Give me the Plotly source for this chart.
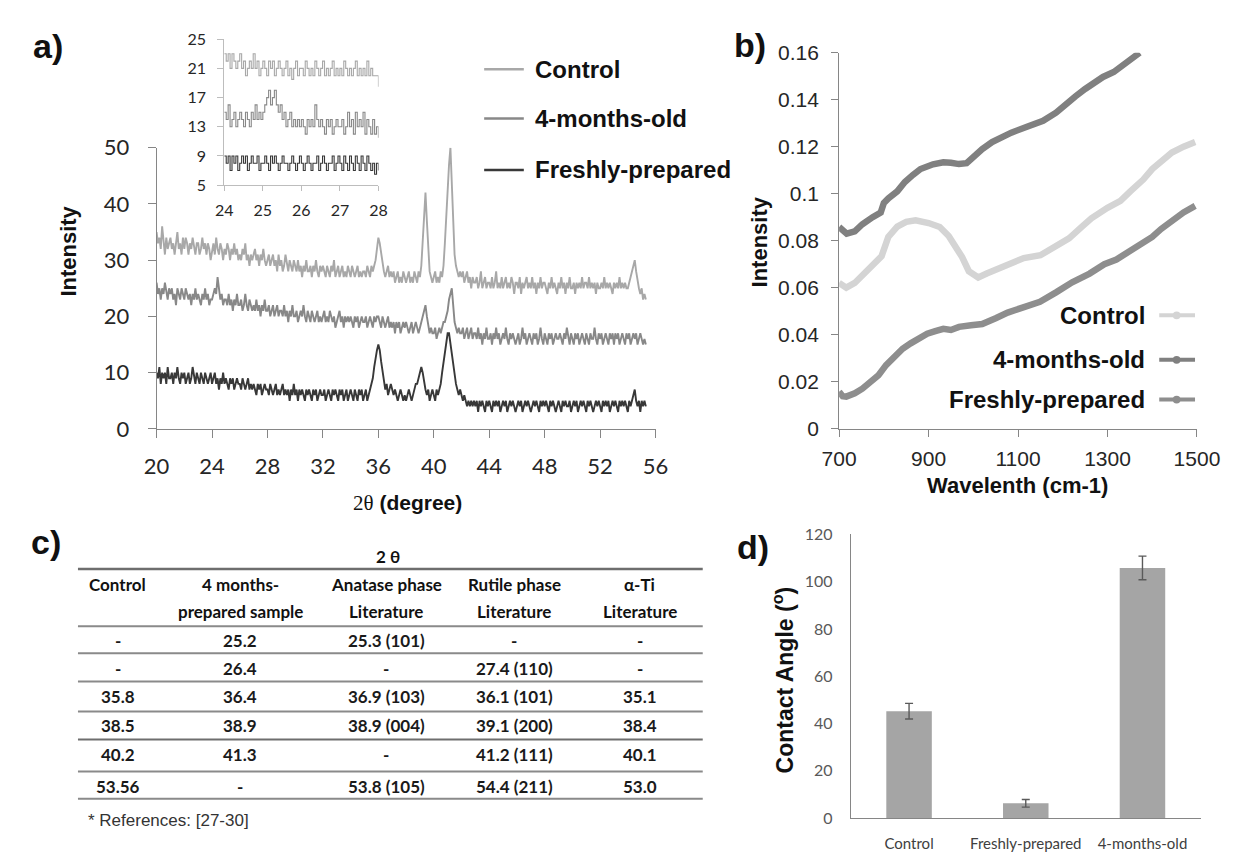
import numpy as np
import plotly.graph_objects as go

W, H = 1248, 862

# ---------------- Panel a: XRD (2theta from 20.0 in 0.1 steps) ----------------
xrd_start, xrd_step = 20.0, 0.1
xrd_control = [
    35,33,34,32,36,33,31,34,32,33, 34,32,33,31,33,35,32,33,31,34,
    32,34,33,31,33,32,34,32,31,33, 33,31,32,34,32,33,31,33,32,30,
    32,33,31,34,32,31,33,32,30,32, 31,33,32,30,32,31,33,31,32,30,
    31,30,32,31,33,30,31,29,31,30, 31,32,30,31,29,31,30,32,30,29,
    30,31,29,30,31,29,30,28,31,29, 30,28,29,31,29,28,30,29,28,30,
    29,28,30,28,29,27,29,28,30,28, 28,29,27,29,28,30,28,27,29,28,
    29,28,27,29,28,27,29,28,30,27, 28,29,27,28,29,27,28,27,29,28,
    27,29,28,27,28,29,27,28,27,28, 28,27,29,28,27,29,28,29,30,32,
    34,33,31,29,28,27,28,29,27,28, 27,28,26,27,28,26,27,26,28,27,
    26,27,28,26,27,26,28,27,26,28, 27,29,33,39,42,37,31,28,27,26,
    27,28,26,27,26,28,27,29,33,38, 43,47,50,44,37,31,29,28,27,28,
    27,28,26,27,28,26,27,25,27,26, 26,27,25,26,28,25,26,27,25,26,
    26,25,27,25,26,28,25,26,25,27, 25,26,27,25,26,25,27,26,24,26,
    26,25,27,24,26,25,26,27,25,26, 25,27,25,26,24,26,25,27,25,26,
    26,25,24,26,25,27,25,26,25,24, 26,25,27,25,26,24,26,25,27,25,
    25,26,24,26,25,26,25,27,25,26, 26,25,27,25,26,25,26,24,26,25,
    25,26,25,27,25,26,25,26,25,24, 26,25,26,25,27,25,26,25,26,25,
    25,26,27,28,29,30,28,26,25,24, 25,23,24,23]
xrd_4months = [
    26,24,25,23,25,24,26,24,23,25, 24,25,23,24,22,25,24,23,25,24,
    23,25,24,23,24,22,24,23,25,23, 24,23,22,24,23,25,23,24,22,23,
    23,24,25,24,27,25,23,24,22,23, 23,22,24,22,23,21,23,22,24,22,
    22,23,21,22,24,22,21,23,22,21, 22,21,23,21,22,20,22,21,23,21,
    21,22,20,21,22,20,21,22,20,21, 21,20,22,20,21,19,21,20,22,20,
    20,21,19,20,21,20,22,20,19,21, 20,19,21,20,19,20,21,19,20,19,
    20,21,19,20,19,21,20,19,20,18, 19,20,21,19,20,18,20,19,20,19,
    20,19,18,20,19,20,18,19,20,19, 19,20,18,19,20,19,18,20,19,20,
    20,19,18,20,19,18,19,20,18,19, 18,19,17,19,18,19,17,18,19,18,
    19,18,17,18,19,17,18,19,18,17, 18,19,20,21,22,20,18,17,18,17,
    17,18,16,17,18,17,18,19,19,20, 21,23,24,25,22,19,18,17,18,17,
    17,18,16,17,18,16,17,18,16,17, 17,16,18,16,17,15,17,16,18,16,
    16,17,15,17,16,18,16,17,15,16, 17,16,18,16,15,17,16,17,16,15,
    16,17,15,16,18,16,17,15,16,17, 16,15,17,16,17,15,16,18,16,15,
    17,16,15,17,16,17,15,16,17,16, 16,17,16,15,17,16,18,16,15,17,
    16,15,17,16,17,15,16,17,16,15, 17,16,15,17,16,16,18,16,15,17,
    16,17,15,16,17,16,15,17,16,17, 15,17,16,17,15,16,17,16,15,17,
    16,17,15,16,17,16,17,15,16,17, 16,15,16,15]
xrd_fresh = [
    10,9,11,8,10,9,10,8,11,9, 9,10,8,10,9,11,9,8,10,9,
    10,8,9,10,8,9,11,9,8,10, 9,8,10,9,8,10,9,8,9,10,
    8,9,10,8,9,7,9,8,10,8, 9,8,7,9,8,9,7,8,9,8,
    8,7,9,8,7,8,9,7,8,7, 8,7,6,8,7,8,6,7,8,7,
    7,6,8,7,6,7,8,6,7,6, 7,8,6,7,6,7,5,7,6,8,
    6,7,5,7,6,7,6,5,7,6, 7,6,5,7,6,7,5,6,7,6,
    6,7,5,6,7,6,5,7,6,7, 6,5,7,6,7,5,6,7,5,6,
    7,6,5,7,6,5,7,6,7,5, 6,7,5,6,7,8,9,11,13,14,
    15,14,12,10,8,7,8,6,7,8, 7,6,7,6,5,6,7,6,5,6,
    5,6,7,6,5,6,7,8,8,9, 10,11,10,8,7,6,7,5,6,7,
    6,5,7,6,7,8,10,12,14,16, 17,17,15,13,11,9,8,7,6,7,
    6,5,6,5,4,5,4,5,4,5, 4,5,3,5,4,5,4,3,5,4,
    5,4,3,5,4,5,4,5,3,4, 5,4,5,3,4,5,4,5,4,3,
    4,5,4,5,3,4,5,4,5,4, 3,4,5,4,5,4,3,5,4,5,
    4,5,4,3,5,4,5,4,3,4, 5,4,3,5,4,5,4,4,5,3,
    4,5,4,5,3,4,5,4,5,4, 3,5,4,5,4,3,4,5,4,5,
    4,3,5,4,5,4,5,3,4,5, 4,5,4,3,5,4,5,4,5,4,
    3,5,4,5,6,7,5,4,5,3, 5,4,5,4]
xrd_ticks = [20, 24, 28, 32, 36, 40, 44, 48, 52, 56]

# inset: 24-28 degrees in 0.05 steps
inset_start, inset_step = 24.0, 0.05
inset_control = [
    23,22,23,21,23,22,21,22,23,21, 22,20,21,22,21,23,21,22,20,21,
    22,21,20,22,21,22,20,21,22,21, 20,21,22,20,21,19.5,21,22,20,21,
    21,20,22,21,20,21,20,22,21,20, 21,22,20,21,20,21,22,20,21,20,
    21,20,22,21,20,21,20,21,22,20, 21,20,21,20,22,20,21,20,20,20, 18.5]
inset_4months = [
    15,14,16,13,14,15,13,14,15,14, 13,15,14,13,15,14,16,14,15,14,
    15,16,17,18,16,17,18,16,15,16, 14,15,13,14,15,13,14,13,14,13,
    14,13,12,14,13,14,13,16,14,13, 14,13,12,14,13,14,12,13,14,13,
    13,14,12,13,15,13,14,12,15,13, 14,13,15,12,14,13,12,14,12,13, 11.5]
inset_fresh = [
    9,8,9,7,9,8,9,7,8,9, 8,9,7,8,9,8,8,9,7,8,
    8,9,8,7,9,8,9,8,7,8, 9,8,8,7,8,9,8,7,8,9,
    8,7,8,9,8,7,8,8,9,7, 8,9,8,7,8,8,9,7,8,9,
    8,7,9,8,7,9,8,7,9,8, 7,9,8,7,9,8,7,8,6.5,8, 7]
inset_xticks = [24, 25, 26, 27, 28]
inset_yticks = [5, 9, 13, 17, 21, 25]

series_names = ["Control", "4-months-old", "Freshly-prepared"]

# ---------------- Panel b: spectra ----------------
b_control_x = [700, 716, 735, 752, 770, 795, 810, 830, 850, 871, 900, 925, 945, 960, 975, 990,
               1011, 1030, 1055, 1080, 1113, 1150, 1184, 1214, 1243, 1264, 1300, 1329, 1351,
               1380, 1400, 1420, 1444, 1470, 1496]
b_control_y = [0.062, 0.060, 0.062, 0.065, 0.069, 0.0734, 0.0816, 0.086, 0.0880, 0.0887, 0.0875,
               0.0858, 0.082, 0.078, 0.073, 0.067, 0.0643, 0.066, 0.068, 0.070, 0.0726, 0.0738,
               0.0775, 0.081, 0.086, 0.0895, 0.094, 0.097, 0.101, 0.106, 0.1105, 0.114, 0.1175,
               0.120, 0.122]
b_4m_x = [700, 710, 717, 735, 752, 775, 793, 800, 810, 830, 847, 865, 882, 910, 933, 950, 968,
          985, 998, 1020, 1042, 1060, 1085, 1120, 1156, 1185, 1205, 1228, 1250, 1271, 1290,
          1314, 1330, 1344, 1358, 1372]
b_4m_y = [0.0858, 0.084, 0.083, 0.084, 0.087, 0.090, 0.092, 0.096, 0.098, 0.101, 0.105, 0.108,
          0.1105, 0.1125, 0.1134, 0.1132, 0.1126, 0.113, 0.1155, 0.119, 0.122, 0.124, 0.126,
          0.1285, 0.131, 0.1345, 0.138, 0.1414, 0.1446, 0.1476, 0.1497, 0.1518, 0.1540,
          0.1566, 0.158, 0.160]
b_fresh_x = [700, 708, 716, 735, 752, 770, 788, 805, 824, 842, 860, 880, 897, 915, 933, 950, 968,
             995, 1020, 1050, 1077, 1110, 1149, 1185, 1221, 1260, 1293, 1320, 1350, 1375, 1400,
             1420, 1444, 1470, 1496]
b_fresh_y = [0.0157, 0.0138, 0.0136, 0.015, 0.017, 0.0195, 0.0227, 0.027, 0.031, 0.034, 0.0363,
             0.0385, 0.0404, 0.0415, 0.0425, 0.042, 0.0433, 0.044, 0.0445, 0.047, 0.0494, 0.0515,
             0.054, 0.058, 0.0623, 0.066, 0.070, 0.072, 0.0755, 0.078, 0.0816, 0.085, 0.0887,
             0.092, 0.0948]
b_xticks = [700, 900, 1100, 1300, 1500]

# ---------------- Panel c: table ----------------
table_super = "2 θ"
table_head1 = ["Control", "4 months-", "Anatase phase", "Rutile phase", "α-Ti"]
table_head2 = ["", "prepared sample", "Literature", "Literature", "Literature"]
table_rows = [
    ["-", "25.2", "25.3 (101)", "-", "-"],
    ["-", "26.4", "-", "27.4 (110)", "-"],
    ["35.8", "36.4", "36.9 (103)", "36.1 (101)", "35.1"],
    ["38.5", "38.9", "38.9 (004)", "39.1 (200)", "38.4"],
    ["40.2", "41.3", "-", "41.2 (111)", "40.1"],
    ["53.56", "-", "53.8 (105)", "54.4 (211)", "53.0"],
]
table_note = "* References: [27-30]"

# ---------------- Panel d: contact angle ----------------
d_categories = ["Control", "Freshly-prepared", "4-months-old"]
d_values = [45.2, 6.2, 105.8]
d_errors = [3.3, 1.6, 5.0]

# ---------------- styling ----------------
A_COL = ["#a8a8a8", "#888888", "#383838"]
B_COL = ["#d4d4d4", "#808080", "#8e8e8e"]
AX = "#868686"
ARIAL = "Liberation Sans"
CAL = "Lato"


def px(x):
    return x / W


def py(y):
    return 1 - y / H


fig = go.Figure()

two_theta = np.round(xrd_start + xrd_step * np.arange(len(xrd_control)), 2)
for name, vals, col in zip(series_names, [xrd_control, xrd_4months, xrd_fresh], A_COL):
    fig.add_trace(go.Scatter(x=two_theta[:len(vals)], y=vals, mode="lines", name=name,
                             line=dict(color=col, width=1.9), xaxis="x", yaxis="y",
                             showlegend=False))

inset_theta = np.round(inset_start + inset_step * np.arange(len(inset_control)), 2)
for name, vals, col in zip(series_names, [inset_control, inset_4months, inset_fresh], A_COL):
    fig.add_trace(go.Scatter(x=inset_theta, y=vals, mode="lines", name=name,
                             line=dict(color=col, width=1.1, shape="hv"),
                             xaxis="x2", yaxis="y2", showlegend=False))

for name, xs, ys, col in zip(series_names, [b_control_x, b_4m_x, b_fresh_x],
                             [b_control_y, b_4m_y, b_fresh_y], B_COL):
    fig.add_trace(go.Scatter(x=xs, y=ys, mode="lines", name=name,
                             line=dict(color=col, width=6.5), xaxis="x3", yaxis="y3",
                             showlegend=False))

fig.add_trace(go.Bar(x=d_categories, y=d_values, width=0.39,
                     marker=dict(color="#a5a5a5", line=dict(width=0)),
                     error_y=dict(type="data", array=d_errors, color="#5a5a5a",
                                  thickness=1.4, width=4),
                     xaxis="x4", yaxis="y4", showlegend=False))

common = dict(showgrid=False, zeroline=False, showline=True, linecolor=AX, linewidth=1,
              ticks="outside", tickcolor=AX, fixedrange=True)

fig.update_layout(
    width=W, height=H, margin=dict(l=0, r=0, t=0, b=0),
    paper_bgcolor="white", plot_bgcolor="white", showlegend=False,
    xaxis=dict(domain=[px(143.3), px(659.2)], range=[20, 56], tickvals=xrd_ticks,
               anchor="y", ticklen=8, ticklabelstandoff=10,
               tickfont=dict(family=CAL, size=22, color="#262626"), **common),
    yaxis=dict(domain=[py(428.3), py(138)], range=[0, 50], dtick=10, anchor="x",
               ticklen=8, ticklabelstandoff=14,
               tickfont=dict(family=CAL, size=22, color="#262626"), **common),
    xaxis2=dict(domain=[px(213.3), px(372.7)], range=[24, 28], tickvals=inset_xticks,
                anchor="y2", ticklen=5, ticklabelstandoff=6,
                tickfont=dict(family=CAL, size=16, color="#262626"),
                **{**common, "linecolor": "#bdbdbd", "tickcolor": "#bdbdbd"}),
    yaxis2=dict(domain=[py(176.7), py(26)], range=[5, 25], tickvals=inset_yticks,
                anchor="x2", ticklen=6, ticklabelstandoff=8,
                tickfont=dict(family=CAL, size=16, color="#262626"),
                **{**common, "linecolor": "#bdbdbd", "tickcolor": "#bdbdbd"}),
    xaxis3=dict(domain=[px(849), px(1219)], range=[700, 1500], tickvals=b_xticks,
                anchor="y3", ticklen=7, ticklabelstandoff=4,
                tickfont=dict(family=ARIAL, size=21, color="#262626"), **common),
    yaxis3=dict(domain=[py(428), py(40)], range=[0, 0.16], dtick=0.02, anchor="x3",
                ticklen=7, ticklabelstandoff=8,
                tickfont=dict(family=ARIAL, size=21, color="#262626"), **common),
    xaxis4=dict(domain=[px(861), px(1223)], range=[-0.5, 2.5], anchor="y4",
                ticks="", ticklabelstandoff=12, showgrid=False, zeroline=False,
                showline=True, linecolor=AX, linewidth=1, fixedrange=True,
                tickfont=dict(family=CAL, size=15, color="#404040")),
    yaxis4=dict(domain=[py(830), py(537.2)], range=[0, 120], dtick=20, anchor="x4",
                ticks="", ticklabelstandoff=14, showgrid=False, zeroline=False,
                showline=True, linecolor=AX, linewidth=1, fixedrange=True,
                tickfont=dict(family=CAL, size=16, color="#595959")),
)

ann = []
shapes = []


def text(x, y, s, size, family=ARIAL, color="#111111", xanchor="center", angle=0):
    ann.append(dict(x=px(x), y=py(y), xref="paper", yref="paper", text=s, showarrow=False,
                    xanchor=xanchor, yanchor="middle", textangle=angle,
                    font=dict(family=family, size=size, color=color)))


# panel labels
for lab, (lx, ly) in zip(["a)", "b)", "c)", "d)"], [(31, 33), (757, 32), (29, 545), (760, 550)]):
    text(lx, ly, "<b>" + lab + "</b>", 34)

# axis titles
text(52, 245, "<b>Intensity</b>", 22, angle=-90)
text(403, 505, "<span style='font-family:Liberation Serif'>2θ</span> <b>(degree)</b>", 21)
text(767, 235, "<b>Intensity</b>", 22, angle=-90)
text(1033, 487, "<b>Wavelenth (cm-1)</b>", 22)
text(792, 687, "<b>Contact Angle (<sup>o</sup>)</b>", 23, angle=-90)

# legend panel a
for i, (name, col) in enumerate(zip(series_names, A_COL)):
    yy = [57, 108, 161][i]
    shapes.append(dict(type="line", xref="paper", yref="paper", x0=px(482), x1=px(523),
                       y0=py(yy), y1=py(yy), line=dict(color=col, width=2.5)))
    text(532, yy, "<b>" + name + "</b>", 24, xanchor="left")

# legend panel b
for i, (name, col) in enumerate(zip(series_names, B_COL)):
    yy = [311, 357, 398][i]
    shapes.append(dict(type="line", xref="paper", yref="paper", x0=px(1180), x1=px(1217),
                       y0=py(yy), y1=py(yy), line=dict(color=col, width=4)))
    shapes.append(dict(type="circle", xref="paper", yref="paper", x0=px(1194), x1=px(1202),
                       y0=py(yy + 4), y1=py(yy - 4), fillcolor=col, line=dict(width=0)))
    text(1167, yy, "<b>" + name + "</b>", 24, xanchor="right")

# table (panel c)
col_x = [103, 230, 381, 513, 643]
text(383, 560, "<b>" + table_super + "</b>", 17, family=CAL)
for cx, h1, h2 in zip(col_x, table_head1, table_head2):
    text(cx, 589, "<b>" + h1 + "</b>", 17, family=CAL)
    if h2:
        text(cx, 617, "<b>" + h2 + "</b>", 17, family=CAL)
row_y = [647, 676, 705, 735, 764, 797]
for ry, row in zip(row_y, table_rows):
    for cx, cell in zip(col_x, row):
        text(cx, ry, "<b>" + cell + "</b>", 17, family=CAL, color="#1a1a1a")
line_y = [573, 632, 660, 689, 720, 749, 782, 810]
for i, ly in enumerate(line_y):
    shapes.append(dict(type="line", xref="paper", yref="paper", x0=px(62), x1=px(708),
                       y0=py(ly), y1=py(ly),
                       line=dict(color="#6e6e6e" if i in (0, 5) else "#8a8a8a",
                                 width=2.5 if i == 0 else 2)))
text(70, 833, table_note, 17, family=ARIAL, color="#333333", xanchor="left")

fig.update_layout(annotations=ann, shapes=shapes)
fig.write_html("out.html")
